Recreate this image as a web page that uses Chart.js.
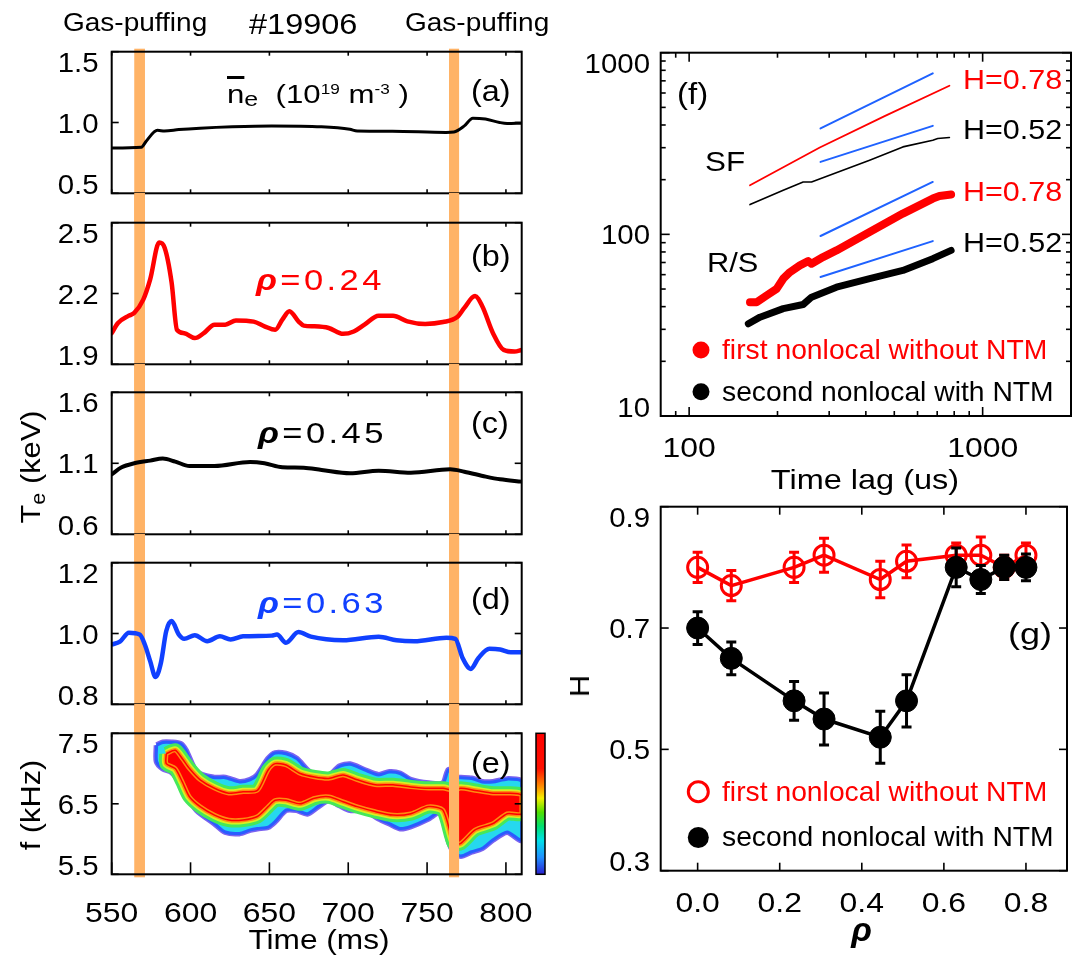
<!DOCTYPE html>
<html>
<head>
<meta charset="utf-8">
<title>Shot #19906: gas puffing, Te and Hurst exponent</title>
<script src="https://cdn.jsdelivr.net/npm/chart.js@4.4.1/dist/chart.umd.min.js"></script>
<style>
  html, body { margin: 0; padding: 0; background: #fff; }
  #page { position: relative; width: 1080px; height: 957px; overflow: hidden;
          font-family: "Liberation Sans", Arial, Helvetica, sans-serif; }
  #page canvas { position: absolute; left: 0; top: 0; }
  .t { position: absolute; white-space: nowrap; line-height: 1; color: #000; }
</style>
</head>
<body>
<div id="page"></div>
<script>
// ---------------- data ----------------
// shared time axis (ms)
const timeTicks  = [550, 600, 650, 700, 750, 800];
const timeLabels = ['550', '600', '650', '700', '750', '800'];
const gasPuffs   = [[564.3, 571.1], [763.9, 770.3]];

// (a) line-averaged density, 1e19 m^-3
const tA  = [550, 568.8, 572, 579, 583.5, 592.6, 606, 626.5, 651.4, 683, 701, 705.7, 728, 762, 767, 773.6, 779, 787, 796, 800.8, 810];
const neA = [0.82, 0.826, 0.87, 0.945, 0.94, 0.95, 0.96, 0.97, 0.976, 0.97, 0.952, 0.94, 0.938, 0.93, 0.933, 0.976, 1.03, 1.024, 1.0, 0.993, 0.995];
const neTicks = [0.5, 1.0, 1.5];
const neLabels = ['0.5', '1.0', '1.5'];

// (b) Te at rho = 0.24, keV
const tB  = [550, 554, 560.9, 564.3, 570, 574.4, 580.1, 583.5, 588, 591.4, 596, 602.7, 608.4, 615.2, 622, 628.8, 640, 646.9, 653.7, 658.2, 662.7, 668.4, 671.8, 678.6, 687.6, 696.7, 703.5, 710.3, 719.3, 728.4, 737.5, 748.8, 760.1, 769.1, 773.6, 780.4, 785, 791.8, 798.6, 805.4, 810];
const teB = [2.032, 2.075, 2.106, 2.118, 2.174, 2.26, 2.416, 2.395, 2.246, 2.046, 2.032, 2.011, 2.032, 2.068, 2.068, 2.086, 2.081, 2.061, 2.046, 2.089, 2.125, 2.082, 2.064, 2.061, 2.054, 2.029, 2.039, 2.068, 2.106, 2.106, 2.082, 2.071, 2.079, 2.1, 2.139, 2.189, 2.146, 2.032, 1.961, 1.954, 1.961];
const teBTicks = [1.9, 2.2, 2.5];
const teBLabels = ['1.9', '2.2', '2.5'];

// (c) Te at rho = 0.45, keV
const tC  = [550, 556.3, 564.3, 574.4, 582.4, 590.3, 599.3, 615.2, 637.8, 646.9, 658.2, 671.8, 683.1, 701.2, 719.3, 739.7, 764.6, 773.6, 787.2, 796.3, 810];
const teC = [1.022, 1.072, 1.1, 1.119, 1.133, 1.112, 1.081, 1.081, 1.109, 1.1, 1.072, 1.069, 1.053, 1.03, 1.048, 1.034, 1.058, 1.041, 1.006, 0.987, 0.971];
const teCTicks = [0.6, 1.1, 1.6];
const teCLabels = ['0.6', '1.1', '1.6'];

// (d) Te at rho = 0.63, keV
const tD  = [550, 555.2, 560.9, 567.7, 571, 574.4, 577.8, 581.2, 584.6, 588, 592.6, 596, 602.7, 610.6, 618.6, 625.4, 633.3, 651.4, 654.8, 660.5, 668.4, 676.3, 696.7, 719.3, 730.6, 741.9, 762.3, 767.9, 772.5, 777.7, 782.6, 789.5, 796.3, 803.1, 810];
const teD = [0.969, 0.977, 1.002, 0.997, 0.969, 0.922, 0.877, 0.917, 1.007, 1.035, 0.997, 0.985, 0.995, 0.978, 0.992, 0.983, 0.992, 0.994, 0.997, 0.974, 1.004, 0.991, 0.981, 0.991, 0.981, 0.978, 0.988, 0.985, 0.931, 0.9, 0.931, 0.957, 0.955, 0.947, 0.947];
const teDTicks = [0.8, 1.0, 1.2];
const teDLabels = ['0.8', '1.0', '1.2'];

// (e) mode frequency: strong core and outer contour of the spectrogram, kHz
const coreT  = [584.6, 590.3, 594.8, 599.3, 606.1, 615.2, 624.2, 633.3, 642.4, 649.2, 653.7, 660.5, 669.5, 678.6, 687.6, 696.7, 705.7, 717.1, 728.4, 739.7, 751.0, 760.1, 766.9, 771.4, 780.4, 791.8, 800.8, 810];
const coreHi = [7.21, 7.26, 7.14, 7.00, 6.84, 6.72, 6.65, 6.67, 6.69, 6.98, 7.07, 7.05, 6.93, 6.88, 6.86, 6.91, 6.84, 6.77, 6.77, 6.74, 6.72, 6.72, 6.69, 6.72, 6.69, 6.65, 6.65, 6.62];
const coreLo = [7.07, 7.00, 6.81, 6.60, 6.46, 6.34, 6.27, 6.27, 6.32, 6.46, 6.55, 6.55, 6.50, 6.58, 6.60, 6.53, 6.46, 6.39, 6.34, 6.36, 6.46, 6.41, 5.94, 5.94, 6.13, 6.22, 6.36, 6.36];
const envT   = [578.5, 582.4, 588, 593.7, 597, 603.9, 615.2, 622, 631, 637.8, 642.4, 649.2, 653.7, 660.5, 667.3, 674, 680.8, 687.6, 694.4, 701.2, 710.3, 719.3, 726.1, 732.9, 739.7, 751, 760.1, 763.5, 766.9, 771.4, 778.2, 785, 791.8, 800.8, 810];
const envHi  = [7.33, 7.37, 7.37, 7.35, 7.26, 6.95, 6.87, 6.87, 6.81, 6.84, 6.91, 7.14, 7.22, 7.21, 7.14, 6.98, 6.87, 6.89, 7.03, 7.06, 6.98, 6.91, 6.95, 6.93, 6.84, 6.79, 6.79, 6.98, 6.88, 6.87, 6.86, 6.81, 6.81, 6.85, 6.81];
const envLo  = [7.10, 7.00, 6.95, 6.79, 6.65, 6.41, 6.22, 6.10, 6.08, 6.13, 6.15, 6.17, 6.25, 6.41, 6.41, 6.36, 6.46, 6.55, 6.48, 6.41, 6.41, 6.29, 6.22, 6.15, 6.18, 6.29, 6.41, 5.99, 5.82, 5.76, 5.82, 5.87, 5.99, 6.10, 5.99];
const fTicks = [5.5, 6.5, 7.5];
const fLabels = ['5.5', '6.5', '7.5'];

// (f) structure function (SF) and rescaled range (R/S) vs time lag (us)
const sfLagRed   = [161.2, 278.7, 463.4, 770.5];
const sfRed      = [186.3, 300.8, 447.7, 657.9];
const sfLagBlack = [161.2, 209.2, 244.6, 261.2, 412, 534.8, 676.2, 703, 770.5];
const sfBlack    = [145.8, 174.9, 194.3, 194.3, 256, 303, 330, 337, 341.5];
const rsLagRed   = [161.2, 169.8, 183.6, 198.6, 209.2, 220.4, 238.4, 254.4, 261.2, 286, 317.6, 412, 534.8, 676.2, 712.7, 780.8];
const rsRed      = [42.3, 42.3, 46.1, 50.1, 57.0, 61.9, 67.5, 71.2, 68.9, 75, 81.6, 103, 130.1, 157.4, 162.7, 165.6];
const rsLagBlack = [159.1, 174.3, 209.2, 244.6, 261.2, 317.6, 412, 534.8, 676.2, 780.8];
const rsBlack    = [32.2, 35.0, 39.0, 41.1, 45.1, 51.2, 57.0, 63.3, 73.5, 81.6];
const fitLag     = [280.3, 676.2];
const fitSF078   = [382.8, 769.9];
const fitSF052   = [250.5, 395.7];
const fitRS078   = [97.9, 194.3];
const fitRS052   = [58.2, 91.8];
const lagTicks   = [100, 1000];
const lagLabels  = ['100', '1000'];
const lagMinor   = [90, 200, 300, 400, 500, 600, 700, 800, 900, 2000];
const ampTicks   = [10, 100, 1000];
const ampLabels  = ['10', '100', '1000'];
const ampMinor   = [20, 30, 40, 50, 60, 70, 80, 90, 200, 300, 400, 500, 600, 700, 800, 900];

// (g) Hurst exponent vs rho
const rho       = [0, 0.082, 0.235, 0.308, 0.445, 0.509, 0.63, 0.69, 0.747, 0.80];
const hFirst    = [0.80, 0.77, 0.80, 0.82, 0.78, 0.81, 0.82, 0.82, 0.80, 0.82];
const hFirstErr = [0.025, 0.025, 0.025, 0.028, 0.03, 0.027, 0.02, 0.03, 0.02, 0.02];
const hSecond   = [0.70, 0.65, 0.58, 0.55, 0.52, 0.58, 0.80, 0.78, 0.80, 0.80];
const hSecondErr= [0.027, 0.027, 0.032, 0.043, 0.043, 0.043, 0.032, 0.023, 0.02, 0.022];
const rhoTicks  = [0, 0.2, 0.4, 0.6, 0.8];
const rhoLabels = ['0.0', '0.2', '0.4', '0.6', '0.8'];
const hTicks    = [0.3, 0.5, 0.7, 0.9];
const hLabels   = ['0.3', '0.5', '0.7', '0.9'];

// ---------------- drawing helpers ----------------
const FONT = '"Liberation Sans", Arial, Helvetica, sans-serif';
const PAGE_W = 1080, PAGE_H = 957;
Chart.defaults.font.family = FONT;

const xy = (xs, ys) => xs.map((x, i) => ({ x, y: ys[i] }));
const ring = (xs, hi, lo) => {
  const pts = xy(xs, hi).concat(xy(xs, lo).reverse());
  pts.push(pts[0]);
  return pts;
};

function textAt(ctx, s, x, y, align, sx) {
  ctx.save();
  ctx.translate(x, y);
  ctx.scale(sx, 1);
  ctx.textAlign = align;
  ctx.fillText(s, 0, 0);
  ctx.restore();
}

// box frame with inward ticks and tick labels
const framePlugin = {
  id: 'frame',
  afterDatasetsDraw(chart, args, o) {
    const { ctx, chartArea: a } = chart;
    const xs = chart.scales.x, ys = chart.scales.y;
    ctx.save();
    ctx.strokeStyle = '#000';
    const seg = (x1, y1, x2, y2) => { ctx.beginPath(); ctx.moveTo(x1, y1); ctx.lineTo(x2, y2); ctx.stroke(); };
    ctx.lineWidth = 1.6;
    (o.xMajor || []).forEach(v => { const p = xs.getPixelForValue(v); seg(p, a.bottom, p, a.bottom - o.xLenB); seg(p, a.top, p, a.top + o.xLenT); });
    (o.xMinor || []).forEach(v => { const p = xs.getPixelForValue(v); if (p <= a.left + 1 || p >= a.right - 1) return; seg(p, a.bottom, p, a.bottom - o.minLen); seg(p, a.top, p, a.top + o.minLen); });
    (o.yMajor || []).forEach(v => { const p = ys.getPixelForValue(v); seg(a.left, p, a.left + o.yLen, p); seg(a.right, p, a.right - o.yLen, p); });
    (o.yMinor || []).forEach(v => { const p = ys.getPixelForValue(v); seg(a.left, p, a.left + o.minLen, p); seg(a.right, p, a.right - o.minLen, p); });
    ctx.lineWidth = 2;
    ctx.strokeRect(a.left, a.top, a.right - a.left, a.bottom - a.top);
    ctx.fillStyle = '#000';
    ctx.font = '28px ' + FONT;
    ctx.textBaseline = 'alphabetic';
    if (o.yLabels) o.yMajor.forEach((v, i) => {
      let c = ys.getPixelForValue(v);
      c = Math.min(Math.max(c, a.top + 10), a.bottom - 9.5);
      textAt(ctx, o.yLabels[i], a.left - o.yGap, c + 10, 'right', o.ySx || 1.05);
    });
    if (o.xLabels) o.xMajor.forEach((v, i) => {
      textAt(ctx, o.xLabels[i], xs.getPixelForValue(v), a.bottom + o.xGap, 'center', o.xSx || 1.14);
    });
    ctx.restore();
  }
};

// gas-puffing windows
function drawPuffs(chart, o) {
  if (!o || !o.spans) return;
  const { ctx } = chart, xs = chart.scales.x;
  ctx.save();
  ctx.fillStyle = '#ffb366';
  o.spans.forEach(([t0, t1]) => {
    const x0 = xs.getPixelForValue(t0), x1 = xs.getPixelForValue(t1);
    ctx.fillRect(x0, o.from, x1 - x0, o.to - o.from);
  });
  ctx.restore();
}
const puffPlugin = {
  id: 'puffs',
  beforeDatasetsDraw(chart, args, o) { if (!o.onTop) drawPuffs(chart, o); },
  afterDatasetsDraw(chart, args, o) { if (o.onTop) drawPuffs(chart, o); }
};

// colour scale beside the spectrogram
const colorBarPlugin = {
  id: 'cbar',
  afterDraw(chart, args, o) {
    if (!o || o.x0 === undefined) return;
    const { ctx } = chart;
    const g = ctx.createLinearGradient(0, o.y0, 0, o.y1);
    g.addColorStop(0.00, '#ff0000');
    g.addColorStop(0.25, '#ff1000');
    g.addColorStop(0.38, '#ff9000');
    g.addColorStop(0.46, '#f4f000');
    g.addColorStop(0.56, '#50e000');
    g.addColorStop(0.66, '#00e070');
    g.addColorStop(0.76, '#00e0e8');
    g.addColorStop(0.88, '#2090ff');
    g.addColorStop(1.00, '#2a20d0');
    ctx.save();
    ctx.fillStyle = g;
    ctx.fillRect(o.x0, o.y0, o.x1 - o.x0, o.y1 - o.y0);
    ctx.lineWidth = 1.5;
    ctx.strokeStyle = '#000';
    ctx.strokeRect(o.x0, o.y0, o.x1 - o.x0, o.y1 - o.y0);
    ctx.restore();
  }
};

// vertical error bars read from each dataset's "errors" array
const errorBarPlugin = {
  id: 'errbars',
  afterDatasetDraw(chart, args) {
    const ds = chart.data.datasets[args.index];
    if (!ds.errors) return;
    const { ctx } = chart, xs = chart.scales.x, ys = chart.scales.y;
    ctx.save();
    ctx.strokeStyle = ds.borderColor;
    ctx.lineWidth = 3;
    ds.data.forEach((p, i) => {
      const x = xs.getPixelForValue(p.x);
      const y0 = ys.getPixelForValue(p.y - ds.errors[i]);
      const y1 = ys.getPixelForValue(p.y + ds.errors[i]);
      ctx.beginPath();
      ctx.moveTo(x, y0); ctx.lineTo(x, y1);
      ctx.moveTo(x - 5, y0); ctx.lineTo(x + 5, y0);
      ctx.moveTo(x - 5, y1); ctx.lineTo(x + 5, y1);
      ctx.stroke();
    });
    ctx.restore();
  }
};

// legend symbols
const keyPlugin = {
  id: 'keys',
  afterDraw(chart, args, o) {
    if (!o || !o.items) return;
    const { ctx } = chart;
    ctx.save();
    o.items.forEach(k => {
      ctx.beginPath();
      ctx.arc(k.x, k.y, k.r, 0, Math.PI * 2);
      ctx.closePath();
      ctx.fillStyle = k.fill;
      ctx.fill();
      if (k.stroke) { ctx.strokeStyle = k.stroke; ctx.lineWidth = k.lw; ctx.stroke(); }
    });
    ctx.restore();
  }
};

function makeChart(rect, scales, datasets, plugOpts) {
  const cv = document.createElement('canvas');
  cv.width = PAGE_W; cv.height = PAGE_H;
  document.getElementById('page').appendChild(cv);
  return new Chart(cv, {
    type: 'scatter',
    data: { datasets },
    options: {
      responsive: false,
      animation: false,
      events: [],
      layout: { padding: { left: rect.l, top: rect.t, right: PAGE_W - rect.r, bottom: PAGE_H - rect.b } },
      scales: {
        x: Object.assign({ display: false, type: 'linear' }, scales.x),
        y: Object.assign({ display: false, type: 'linear' }, scales.y)
      },
      plugins: Object.assign({ legend: { display: false }, tooltip: { enabled: false } }, plugOpts)
    },
    plugins: [puffPlugin, framePlugin, colorBarPlugin, errorBarPlugin, keyPlugin]
  });
}

const curve = (data, color, width) => ({
  data, showLine: true, borderColor: color, borderWidth: width, pointRadius: 0,
  tension: 0.4, cubicInterpolationMode: 'monotone', clip: 0,
  borderJoinStyle: 'round', borderCapStyle: 'round', fill: false
});

// ---------------- left column: time traces ----------------
const L = 111.7, R = 521.7;
const rects = {
  a: { l: L, t: 51.7,  r: R, b: 193.3 },
  b: { l: L, t: 222.7, r: R, b: 364.3 },
  c: { l: L, t: 392.3, r: R, b: 534.3 },
  d: { l: L, t: 562.7, r: R, b: 704.3 },
  e: { l: L, t: 733.3, r: R, b: 874.3 },
  f: { l: 660.7, t: 52.7,  r: 1071, b: 416 },
  g: { l: 660.7, t: 506.7, r: 1071, b: 870.7 }
};
const timeX = { min: 550, max: 810 };
const leftFrame = (yMajor, yLabels, extra) => Object.assign({
  xMajor: timeTicks, xLenT: 4, xLenB: 4, yMajor, yLabels, yLen: 7, yGap: 13.2, minLen: 4
}, extra || {});

makeChart(rects.a, { x: timeX, y: { min: 0.5, max: 1.5 } },
  [curve(xy(tA, neA), '#000000', 3)],
  { frame: leftFrame(neTicks, neLabels), puffs: { spans: gasPuffs, from: 48.7, to: 222.7 } });

makeChart(rects.b, { x: timeX, y: { min: 1.9, max: 2.5 } },
  [curve(xy(tB, teB), '#ff0000', 4.5)],
  { frame: leftFrame(teBTicks, teBLabels), puffs: { spans: gasPuffs, from: 193, to: 392.3 } });

makeChart(rects.c, { x: timeX, y: { min: 0.6, max: 1.6 } },
  [curve(xy(tC, teC), '#000000', 4)],
  { frame: leftFrame(teCTicks, teCLabels), puffs: { spans: gasPuffs, from: 364, to: 562.7 } });

makeChart(rects.d, { x: timeX, y: { min: 0.8, max: 1.2 } },
  [curve(xy(tD, teD), '#1040ff', 4.5)],
  { frame: leftFrame(teDTicks, teDLabels), puffs: { spans: gasPuffs, from: 534, to: 733.3 } });

// (e) spectrogram drawn as nested contour bands, red core on top
const envRing = ring(envT, envHi, envLo);
const coreRing = ring(coreT, coreHi, coreLo);
const band = (data, stroke, width, fillColor, order) => ({
  data, showLine: true, pointRadius: 0, tension: 0.25, clip: 0, order,
  borderColor: stroke, borderWidth: width, borderJoinStyle: 'round',
  backgroundColor: fillColor || 'rgba(0,0,0,0)', fill: fillColor ? 'shape' : false
});
makeChart(rects.e, { x: timeX, y: { min: 5.5, max: 7.5 } },
  [
    band(envRing,  '#7b62f0', 6, null, 7),
    band(envRing,  '#2a5cff', 3, '#26d8ee', 6),
    band(coreRing, '#45e85a', 14, null, 5),
    band(coreRing, '#d8f020', 8, null, 4),
    band(coreRing, '#ff8a10', 4.5, '#ff0000', 3),
    band(coreRing, '#ff0000', 1.5, null, 2)
  ],
  {
    frame: leftFrame(fTicks, fLabels, { xLabels: timeLabels, xLenB: 12, xGap: 47.4 }),
    puffs: { spans: gasPuffs, from: 704, to: 877.3, onTop: true },
    cbar: { x0: 536, x1: 545, y0: 733.3, y1: 874.3 }
  });

// ---------------- (f) SF and R/S scaling ----------------
const thin = (data, color, width) => ({
  data, showLine: true, borderColor: color, borderWidth: width, pointRadius: 0, tension: 0,
  borderJoinStyle: 'round', borderCapStyle: 'round', fill: false
});
makeChart(rects.f,
  { x: { type: 'logarithmic', min: 80, max: 2000 }, y: { type: 'logarithmic', min: 10, max: 1000 } },
  [
    thin(xy(fitLag, fitSF078), '#1f62ff', 2),
    thin(xy(fitLag, fitSF052), '#1f62ff', 2),
    thin(xy(fitLag, fitRS078), '#1f62ff', 2),
    thin(xy(fitLag, fitRS052), '#1f62ff', 2),
    thin(xy(sfLagRed, sfRed), '#ff0000', 1.8),
    thin(xy(sfLagBlack, sfBlack), '#000000', 1.6),
    thin(xy(rsLagRed, rsRed), '#ff0000', 8),
    thin(xy(rsLagBlack, rsBlack), '#000000', 7)
  ],
  {
    frame: {
      xMajor: lagTicks, xLabels: lagLabels, xMinor: lagMinor, xLenT: 9, xLenB: 9, xGap: 40.7,
      yMajor: ampTicks, yLabels: ampLabels, yMinor: ampMinor, yLen: 9, yGap: 10.7, minLen: 5
    },
    keys: { items: [
      { x: 701, y: 350, r: 8.5, fill: '#ff0000' },
      { x: 701, y: 391.7, r: 8.5, fill: '#000000' }
    ] }
  });

// ---------------- (g) Hurst exponent profile ----------------
makeChart(rects.g, { x: { min: -0.09, max: 0.9 }, y: { min: 0.3, max: 0.9 } },
  [
    { data: xy(rho, hFirst), errors: hFirstErr, showLine: true, order: 2,
      borderColor: '#ff0000', borderWidth: 3.5, tension: 0,
      pointRadius: 10, pointBorderWidth: 3, pointBorderColor: '#ff0000', pointBackgroundColor: 'rgba(0,0,0,0)' },
    { data: xy(rho, hSecond), errors: hSecondErr, showLine: true, order: 1,
      borderColor: '#000000', borderWidth: 3.5, tension: 0,
      pointRadius: 11, pointBorderWidth: 1, pointBorderColor: '#000000', pointBackgroundColor: '#000000' }
  ],
  {
    frame: {
      xMajor: rhoTicks, xLabels: rhoLabels, xLenT: 8, xLenB: 8, xGap: 41,
      yMajor: hTicks, yLabels: hLabels, yLen: 8, yGap: 10.7, minLen: 5
    },
    keys: { items: [
      { x: 698.3, y: 791.7, r: 10, fill: '#ffffff', stroke: '#ff0000', lw: 3 },
      { x: 698.3, y: 837.5, r: 10.5, fill: '#000000' }
    ] }
  });

// ---------------- text ----------------
const sup = s => `<span style="font-size:0.55em;position:relative;top:-0.62em">${s}</span>`;
const RHO = '<b><i>ρ</i></b>';
const notes = [
  { html: 'Gas-puffing', x: 62.7, base: 31, size: 25, sx: 1.12 },
  { html: '#19906', x: 248.8, base: 35, size: 29, sx: 1.12 },
  { html: 'Gas-puffing', x: 404.5, base: 31, size: 25, sx: 1.12 },
  { html: '<span style="text-decoration:overline;text-decoration-thickness:2.5px">n</span>' +
          '<span style="font-size:0.8em;position:relative;top:0.15em">e</span>&nbsp;&nbsp;(10' + sup('19') +
          '&nbsp;m' + sup('-3') + '&nbsp;)', x: 226.7, base: 103.3, size: 26, sx: 1.2 },
  { html: RHO + '=0.24', x: 256, base: 290, size: 30, sx: 1.15, color: '#ff0000', ls: 3 },
  { html: RHO + '=0.45', x: 258, base: 443, size: 30, sx: 1.15, ls: 3 },
  { html: RHO + '=0.63', x: 258, base: 613, size: 30, sx: 1.15, color: '#1040ff', ls: 3 },
  { html: '(a)', x: 470.8, base: 101, size: 30, sx: 1.08 },
  { html: '(b)', x: 470.8, base: 266, size: 30, sx: 1.08 },
  { html: '(c)', x: 470.8, base: 433, size: 30, sx: 1.08 },
  { html: '(d)', x: 470.8, base: 609, size: 30, sx: 1.08 },
  { html: '(e)', x: 470.8, base: 773, size: 30, sx: 1.08 },
  { html: 'T<span style="font-size:0.7em;position:relative;top:0.25em">e</span> (keV)', x: 30.5, y: 466.5, size: 28, sx: 1.1, rot: true },
  { html: 'f (kHz)', x: 30.5, y: 805, size: 28, sx: 1.1, rot: true },
  { html: 'Time (ms)', x: 318.5, base: 950, size: 28, sx: 1.13, center: true },
  { html: '(f)', x: 676.7, base: 104, size: 30, sx: 1.1 },
  { html: 'SF', x: 705, base: 171.7, size: 28, sx: 1.12 },
  { html: 'R/S', x: 706.7, base: 273, size: 28, sx: 1.1 },
  { html: 'H=0.78', x: 963, base: 90, size: 28, sx: 1.09, color: '#ff0000' },
  { html: 'H=0.52', x: 963, base: 140, size: 28, sx: 1.09 },
  { html: 'H=0.78', x: 963, base: 201.7, size: 28, sx: 1.09, color: '#ff0000' },
  { html: 'H=0.52', x: 963, base: 253, size: 28, sx: 1.09 },
  { html: 'first nonlocal without NTM', x: 721.7, base: 360, size: 28, sx: 1.01, color: '#ff0000' },
  { html: 'second nonlocal with NTM', x: 721.7, base: 401.7, size: 28, sx: 1.01 },
  { html: 'Time lag (us)', x: 865, base: 490, size: 28, sx: 1.16, center: true },
  { html: '(g)', x: 1008, base: 644, size: 30, sx: 1.2 },
  { html: 'first nonlocal without NTM', x: 721.7, base: 801.7, size: 28, sx: 1.01, color: '#ff0000' },
  { html: 'second nonlocal with NTM', x: 721.7, base: 846.7, size: 28, sx: 1.01 },
  { html: RHO, x: 861.5, base: 941, size: 34, sx: 1, center: true },
  { html: 'H', x: 580, y: 686, size: 28, sx: 1.1, rot: true }
];
const page = document.getElementById('page');
notes.forEach(n => {
  const d = document.createElement('div');
  d.className = 't';
  d.innerHTML = n.html;
  d.style.fontSize = n.size + 'px';
  d.style.color = n.color || '#000';
  if (n.ls) d.style.letterSpacing = n.ls + 'px';
  const sx = n.sx || 1;
  if (n.rot) {
    d.style.left = n.x + 'px';
    d.style.top = n.y + 'px';
    d.style.transformOrigin = '0 0';
    d.style.transform = `rotate(-90deg) scaleX(${sx}) translate(-50%, -50%)`;
  } else {
    d.style.left = n.x + 'px';
    d.style.top = (n.base - 0.8465 * n.size) + 'px';
    if (n.center) {
      d.style.transformOrigin = '50% 0';
      d.style.transform = `translateX(-50%) scaleX(${sx})`;
    } else {
      d.style.transformOrigin = '0 0';
      d.style.transform = `scaleX(${sx})`;
    }
  }
  page.appendChild(d);
});
</script>
</body>
</html>
